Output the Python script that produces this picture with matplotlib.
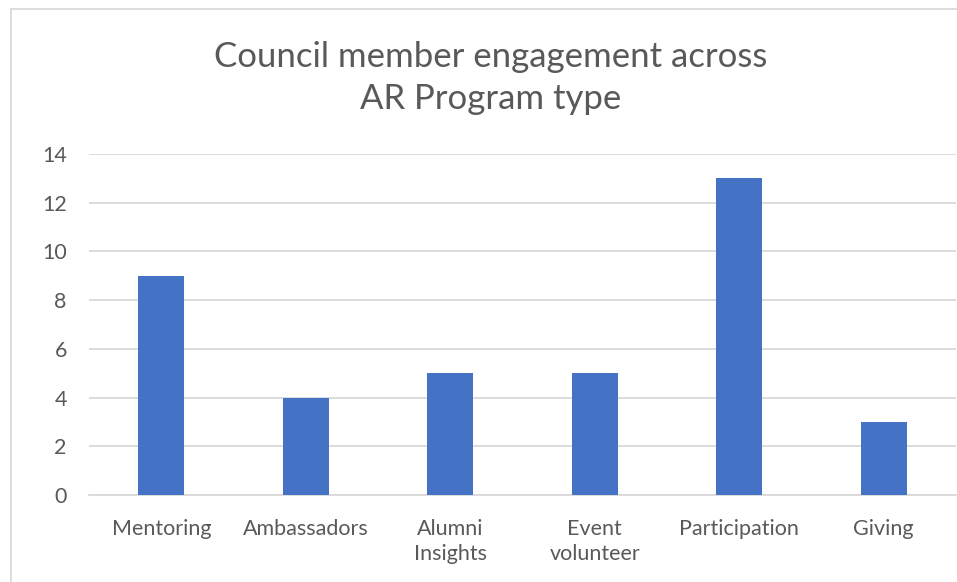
import matplotlib.pyplot as plt
from matplotlib.patches import Rectangle

categories = ["Mentoring", "Ambassadors", "Alumni\nInsights", "Event\nvolunteer",
              "Participation", "Giving"]
values = [9, 4, 5, 5, 13, 3]
y_ticks = [0, 2, 4, 6, 8, 10, 12, 14]

plt.rcParams["font.family"] = ["Lato", "DejaVu Sans"]

fig = plt.figure(figsize=(9.57, 5.82), dpi=100)
ax = fig.add_axes([89 / 957, 87 / 582, 867 / 957, 341 / 582])

ax.bar(range(len(categories)), values, width=0.32, color="#4472C4", zorder=3)

ax.set_xlim(-0.5, len(categories) - 0.5)
ax.set_ylim(0, 14)
ax.set_yticks(y_ticks)
ax.set_xticks(range(len(categories)))
ax.set_xticklabels(categories, linespacing=1.35)

ax.grid(axis="y", color="#d9d9d9", linewidth=1.3, zorder=0)
for s in ["top", "right", "left"]:
    ax.spines[s].set_visible(False)
ax.spines["bottom"].set_color("#d9d9d9")
ax.spines["bottom"].set_linewidth(1.3)

ax.tick_params(axis="both", length=0, labelsize=15.5, colors="#595959")
ax.tick_params(axis="x", pad=17)
ax.tick_params(axis="y", pad=16)

# Title
fig.text(491 / 957, 1 - 78 / 582, "Council member engagement across\nAR Program type",
         ha="center", va="center", fontsize=25, color="#595959", linespacing=1.38)

# Chart border
fig.patches.append(Rectangle((11 / 957, -0.1), 1.2, (582 - 9) / 582 + 0.1,
                             transform=fig.transFigure, fill=False,
                             edgecolor="#d9d9d9", linewidth=1.3))

plt.savefig("out.png", dpi=100)
